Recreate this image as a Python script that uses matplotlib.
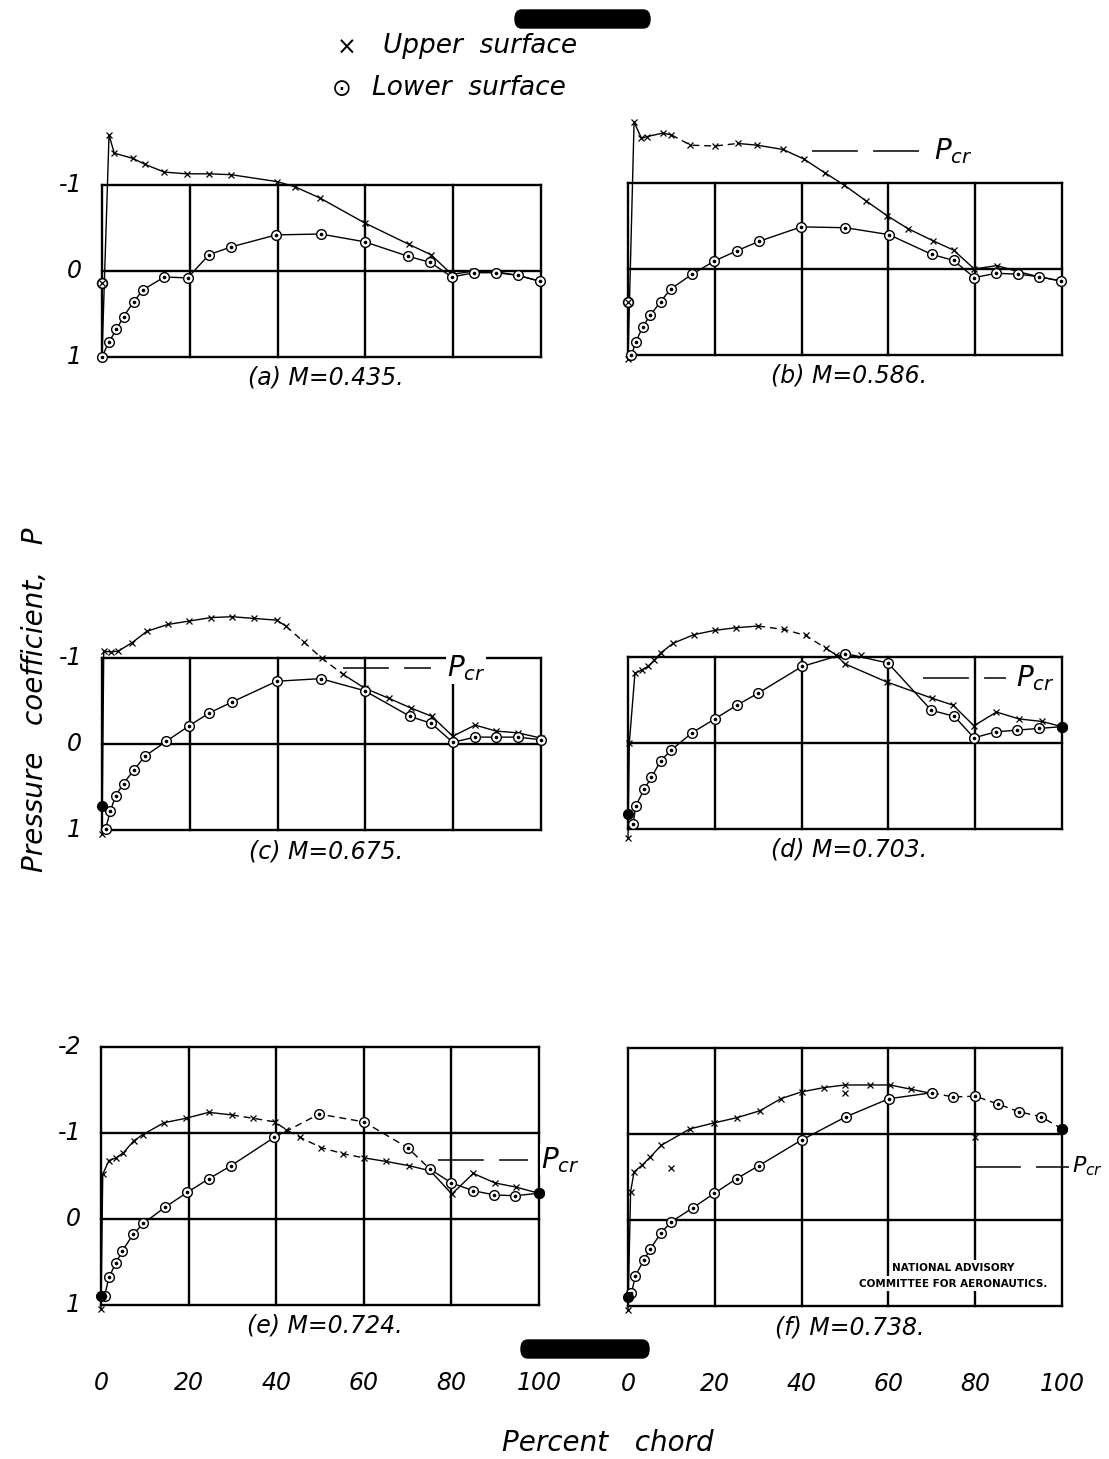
import matplotlib
matplotlib.use("Agg")
import matplotlib.pyplot as plt
import numpy as np
from matplotlib.patches import FancyBboxPatch

plt.rcParams["font.family"] = ["DejaVu Sans"]
plt.rcParams["mathtext.fontset"] = "dejavusans"

W, H = 1109, 1459

chord_ticks = [0, 20, 40, 60, 80, 100]
chord_labels = ["0", "20", "40", "60", "80", "100"]

# ---- (a) M=0.435
a_upper_x = [0, 1.6, 2.8, 7.0, 9.8, 14.2, 19.3, 24.4, 29.4, 39.8, 43.9, 49.6, 59.8, 69.9, 74.9, 79.7, 84.6, 89.8, 94.7, 99.8]
a_upper_y = [1.0, -1.58, -1.37, -1.31, -1.24, -1.15, -1.13, -1.13, -1.12, -1.04, -0.98, -0.85, -0.56, -0.31, -0.19, 0.04, 0.0, 0.01, 0.05, 0.12]
a_lower_x = [0, 1.5, 3.3, 4.9, 7.2, 9.3, 14.2, 19.5, 24.4, 29.4, 39.7, 49.8, 59.8, 69.8, 74.8, 79.7, 84.7, 89.8, 94.7, 99.8]
a_lower_y = [1.0, 0.83, 0.68, 0.53, 0.36, 0.22, 0.07, 0.08, -0.19, -0.28, -0.42, -0.43, -0.34, -0.17, -0.10, 0.07, 0.02, 0.02, 0.05, 0.12]
a_lone_x = [0]
a_lone_y = [0.14]

# ---- (b) M=0.586
b_upper_x = [0, 1.4, 3.1, 4.4, 8.0, 10.0, 14.4, 20.0, 25.3, 29.7, 35.7, 40.5, 45.3, 49.7, 54.9, 59.7, 64.5, 70.2, 75.0, 79.8, 85.0, 89.8, 94.6, 99.8]
b_upper_y = [1.05, -1.71, -1.52, -1.54, -1.58, -1.56, -1.44, -1.43, -1.46, -1.44, -1.39, -1.28, -1.12, -0.98, -0.79, -0.62, -0.47, -0.33, -0.22, 0.0, -0.04, 0.03, 0.09, 0.14]
b_lower_x = [0.8, 1.8, 3.4, 5.1, 7.5, 9.9, 14.8, 19.8, 25.0, 30.1, 39.9, 50.1, 60.1, 70.0, 75.0, 79.8, 84.8, 89.8, 94.8, 99.8]
b_lower_y = [1.0, 0.85, 0.67, 0.54, 0.38, 0.23, 0.06, -0.09, -0.21, -0.32, -0.49, -0.48, -0.40, -0.17, -0.10, 0.10, 0.05, 0.06, 0.09, 0.14]
b_lone_x = [0]
b_lone_y = [0.38]

# ---- (c) M=0.675
c_upper_x = [0, 0.4, 2.0, 3.7, 6.9, 10.2, 15.0, 19.9, 24.8, 29.7, 34.6, 39.8, 41.9, 45.9, 50.0, 54.9, 59.8, 65.4, 70.3, 75.2, 79.9, 85.0, 89.8, 94.7, 99.9]
c_upper_y = [1.05, -1.08, -1.07, -1.08, -1.18, -1.31, -1.39, -1.43, -1.47, -1.48, -1.46, -1.44, -1.37, -1.19, -1.0, -0.81, -0.65, -0.53, -0.42, -0.32, -0.09, -0.22, -0.15, -0.13, -0.07]
c_lower_x = [0.8, 1.9, 3.1, 4.9, 7.3, 9.8, 14.6, 19.8, 24.4, 29.7, 39.8, 49.8, 59.8, 70.2, 75.0, 79.9, 85.0, 89.8, 94.7, 99.9]
c_lower_y = [0.99, 0.78, 0.60, 0.46, 0.30, 0.14, -0.03, -0.21, -0.36, -0.49, -0.73, -0.76, -0.62, -0.32, -0.24, -0.02, -0.08, -0.08, -0.08, -0.05]
c_lone_x = [0]
c_lone_y = [0.72]

# ---- (d) M=0.703
d_upper_x = [0, 0.3, 1.6, 3.2, 4.6, 6.0, 7.6, 10.4, 15.2, 20.0, 24.8, 30.0, 36.0, 40.9, 45.7, 48.0, 50.0, 59.6, 70.1, 74.9, 79.7, 84.9, 90.1, 95.4, 100]
d_upper_y = [1.1, 0.0, -0.81, -0.85, -0.89, -0.96, -1.05, -1.16, -1.26, -1.31, -1.34, -1.36, -1.32, -1.25, -1.10, -1.02, -0.92, -0.71, -0.52, -0.44, -0.20, -0.36, -0.28, -0.25, -0.19]
d_lower_x = [1.2, 1.8, 3.8, 5.4, 7.5, 10.0, 14.8, 20.0, 25.1, 30.0, 40.1, 50.1, 59.9, 69.9, 75.2, 79.7, 84.8, 89.7, 94.8, 100]
d_lower_y = [0.94, 0.73, 0.53, 0.40, 0.21, 0.08, -0.12, -0.28, -0.44, -0.58, -0.89, -1.04, -0.93, -0.38, -0.31, -0.06, -0.13, -0.15, -0.17, -0.19]
d_lone_x = [0, 100]
d_lone_y = [0.82, -0.19]
d_stray_upper_x = [53.7]
d_stray_upper_y = [-1.02]

# ---- (e) M=0.724
e_upper_x = [0, 0.4, 1.8, 3.4, 5.1, 7.5, 9.5, 14.4, 19.3, 24.6, 29.9, 34.8, 39.7, 42.2, 45.4, 50.3, 55.2, 60.1, 65.0, 70.3, 75.2, 80.1, 85.0, 89.9, 94.8, 99.9]
e_upper_y = [1.05, -0.52, -0.68, -0.71, -0.77, -0.91, -0.98, -1.12, -1.17, -1.24, -1.21, -1.17, -1.13, -1.04, -0.95, -0.83, -0.76, -0.71, -0.67, -0.62, -0.56, -0.29, -0.53, -0.42, -0.37, -0.30]
e_lower_x = [0.8, 1.8, 3.4, 4.9, 7.3, 9.7, 14.7, 19.7, 24.7, 29.7, 39.6, 49.8, 60.0, 70.0, 75.1, 80.0, 84.9, 89.8, 94.6, 99.9]
e_lower_y = [0.90, 0.68, 0.51, 0.37, 0.18, 0.05, -0.14, -0.31, -0.47, -0.62, -0.95, -1.22, -1.13, -0.83, -0.58, -0.42, -0.33, -0.28, -0.27, -0.30]
e_lone_x = [0, 99.9]
e_lone_y = [0.89, -0.30]

# ---- (f) M=0.738
f_upper_x = [0, 0.6, 1.4, 3.3, 5.1, 7.7, 14.3, 19.9, 25.1, 30.4, 35.2, 40.0, 45.2, 50.0, 55.7, 60.3, 65.3, 70.1]
f_upper_y = [1.05, -0.33, -0.56, -0.64, -0.73, -0.87, -1.06, -1.13, -1.19, -1.27, -1.41, -1.49, -1.54, -1.57, -1.57, -1.57, -1.52, -1.47]
f_lower_x = [0.8, 1.7, 3.6, 5.1, 7.6, 10.0, 14.9, 19.9, 25.0, 30.1, 40.0, 50.2, 60.1, 70.1, 74.9, 80.0, 85.2, 90.0, 95.2, 100]
f_lower_y = [0.85, 0.65, 0.47, 0.34, 0.15, 0.02, -0.14, -0.31, -0.48, -0.63, -0.93, -1.20, -1.41, -1.48, -1.43, -1.44, -1.35, -1.26, -1.20, -1.06]
f_lone_x = [0, 100]
f_lone_y = [0.89, -1.06]
f_stray_upper_x = [10.0, 50.0, 80.0]
f_stray_upper_y = [-0.60, -1.48, -0.96]

# panel layout in pixels: left, right, bottom (P=1), box top value
panels = [
    dict(key="a", l=102, r=541, b=357, top=-1, cap="(a) M=0.435.",
         ux=a_upper_x, uy=a_upper_y, ud=None, lx=a_lower_x, ly=a_lower_y, ld=None,
         lone=(a_lone_x, a_lone_y), lone_fill=False, su=None, pcr=None, yt=[-1, 0, 1]),
    dict(key="b", l=628, r=1062, b=355, top=-1, cap="(b) M=0.586.",
         ux=b_upper_x, uy=b_upper_y, ud=(10.0, 25.3), lx=b_lower_x, ly=b_lower_y, ld=None,
         lone=(b_lone_x, b_lone_y), lone_fill=False, su=None,
         pcr=(42.5, 68.2, -1.37, 70.5, 20), yt=None),
    dict(key="c", l=102, r=541, b=830, top=-1, cap="(c) M=0.675.",
         ux=c_upper_x, uy=c_upper_y, ud=(41.9, 54.9), lx=c_lower_x, ly=c_lower_y, ld=None,
         lone=(c_lone_x, c_lone_y), lone_fill=True, su=None,
         pcr=(55.0, 75.0, -0.88, 78.5, 20), yt=[-1, 0, 1]),
    dict(key="d", l=628, r=1062, b=829, top=-1, cap="(d) M=0.703.",
         ux=d_upper_x, uy=d_upper_y, ud=(30.0, 45.7), lx=d_lower_x, ly=d_lower_y, ld=None,
         lone=(d_lone_x, d_lone_y), lone_fill=True, su=(d_stray_upper_x, d_stray_upper_y),
         pcr=(68.0, 87.0, -0.76, 89.5, 20), yt=None),
    dict(key="e", l=101, r=539, b=1305, top=-2, cap="(e) M=0.724.",
         ux=e_upper_x, uy=e_upper_y, ud=(29.9, 60.1), lx=e_lower_x, ly=e_lower_y, ld=(39.6, 75.1),
         lone=(e_lone_x, e_lone_y), lone_fill=True, su=None,
         pcr=(77.0, 97.6, -0.69, 100.5, 20), yt=[-2, -1, 0, 1]),
    dict(key="f", l=628, r=1062, b=1306, top=-2, cap="(f) M=0.738.",
         ux=f_upper_x, uy=f_upper_y, ud=None, lx=f_lower_x, ly=f_lower_y, ld=(70.1, 100),
         lone=(f_lone_x, f_lone_y), lone_fill=True, su=(f_stray_upper_x, f_stray_upper_y),
         pcr=(80.0, 101.5, -0.62, 102.3, 16), yt=None),
]

UNIT = 86  # pixels per unit of P


def draw_line(ax, xs, ys, dash):
    xs = np.asarray(xs)
    ys = np.asarray(ys)
    if dash is None:
        pieces = [(xs, ys, False)]
    else:
        lo, hi = dash
        pieces = [
            (xs[xs <= lo], ys[xs <= lo], False),
            (xs[(xs >= lo) & (xs <= hi)], ys[(xs >= lo) & (xs <= hi)], True),
            (xs[xs >= hi], ys[xs >= hi], False),
        ]
    for px, py, dashed in pieces:
        if len(px) < 2:
            continue
        line, = ax.plot(px, py, color="black", lw=1.0, clip_on=False, zorder=3)
        if dashed:
            line.set_dashes((5, 3.5))


fig = plt.figure(figsize=(W / 100, H / 100), dpi=100)

for p in panels:
    height = 3 * UNIT
    ax = fig.add_axes([p["l"] / W, 1 - p["b"] / H, (p["r"] - p["l"]) / W, height / H])
    ax.set_xlim(0, 100)
    ax.set_ylim(1, -2)
    ax.axis("off")

    # box and grid
    for yv in range(p["top"], 2):
        ax.plot([0, 100], [yv, yv], color="black", lw=1.7, zorder=1, clip_on=False,
                solid_capstyle="projecting")
    for xv in chord_ticks:
        ax.plot([xv, xv], [p["top"], 1], color="black", lw=1.7, zorder=1, clip_on=False,
                solid_capstyle="projecting")

    # surfaces
    draw_line(ax, p["ux"], p["uy"], p["ud"])
    draw_line(ax, p["lx"], p["ly"], p["ld"])
    ax.plot(p["ux"], p["uy"], ls="none", marker="x", ms=4.5, mew=0.9, color="black",
            clip_on=False, zorder=4)
    if p["su"] is not None:
        ax.plot(p["su"][0], p["su"][1], ls="none", marker="x", ms=4.5, mew=0.9,
                color="black", clip_on=False, zorder=4)
    ax.plot(p["lx"], p["ly"], ls="none", marker="o", ms=7, mfc="white", mec="black",
            mew=1.0, clip_on=False, zorder=5)
    ax.plot(p["lx"], p["ly"], ls="none", marker="o", ms=1.6, color="black",
            clip_on=False, zorder=6)
    if p["lone_fill"]:
        ax.plot(p["lone"][0], p["lone"][1], ls="none", marker="o", ms=7, color="black",
                clip_on=False, zorder=6)
    else:
        ax.plot(p["lone"][0], p["lone"][1], ls="none", marker="o", ms=7, mfc="white",
                mec="black", mew=1.2, clip_on=False, zorder=6)
        ax.plot(p["lone"][0], p["lone"][1], ls="none", marker="x", ms=4, mew=0.9,
                color="black", clip_on=False, zorder=7)

    # critical pressure
    if p["pcr"] is not None:
        x0, x1, yc, xl, fs = p["pcr"]
        ln, = ax.plot([x0, x1], [yc, yc], color="black", lw=1.1, clip_on=False, zorder=3)
        ln.set_dashes((30, 10))
        ax.text(xl, yc, r"$P_{cr}$", fontsize=fs, ha="left", va="center", zorder=7,
                bbox=dict(facecolor="white", edgecolor="none", pad=0.5))

    # caption
    ax.text(51, 1 + 21 / UNIT, p["cap"], fontsize=17, style="italic",
            ha="center", va="center")

    # y tick labels
    if p["yt"] is not None:
        for yv in p["yt"]:
            ax.text(-4.5, yv, f"{yv}", fontsize=17, style="italic", ha="right", va="center")

    # x tick labels under the bottom row
    if p["key"] in ("e", "f"):
        for xv, lab in zip(chord_ticks, chord_labels):
            ax.text(xv, 1 + 78 / UNIT, lab, fontsize=17, style="italic",
                    ha="center", va="center")

    if p["key"] == "f":
        ax.text(75, 0.56, "NATIONAL ADVISORY", fontsize=7.5, fontweight="bold",
                ha="center", va="center", zorder=7,
                bbox=dict(facecolor="white", edgecolor="none", pad=2))
        ax.text(75, 0.74, "COMMITTEE FOR AERONAUTICS.", fontsize=7.5, fontweight="bold",
                ha="center", va="center", zorder=7,
                bbox=dict(facecolor="white", edgecolor="none", pad=2))

# legend at top
fig.text(347 / W, 1 - 48 / H, "\u00d7", fontsize=17, ha="center", va="center")
fig.text(383 / W, 1 - 46 / H, "Upper  surface", fontsize=19, style="italic",
         ha="left", va="center")
fig.text(342 / W, 1 - 89 / H, "\u2299", fontsize=17, ha="center", va="center")
fig.text(372 / W, 1 - 88 / H, "Lower  surface", fontsize=19, style="italic",
         ha="left", va="center")

# axis titles
fig.text(35 / W, 1 - 700 / H, "Pressure   coefficient,   P", fontsize=20, style="italic",
         rotation=90, ha="center", va="center")
fig.text(608 / W, 1 - 1443 / H, "Percent   chord", fontsize=20, style="italic",
         ha="center", va="center")

# redaction marks
for x0, y0, x1, y1 in [(515, 10, 650, 28), (521, 1340, 649, 1358)]:
    fig.patches.append(FancyBboxPatch(
        (x0 / W, 1 - y1 / H), (x1 - x0) / W, (y1 - y0) / H,
        boxstyle="round,pad=0,rounding_size=0.006", transform=fig.transFigure,
        facecolor="black", edgecolor="black", figure=fig))

fig.savefig("out.png", dpi=100)
